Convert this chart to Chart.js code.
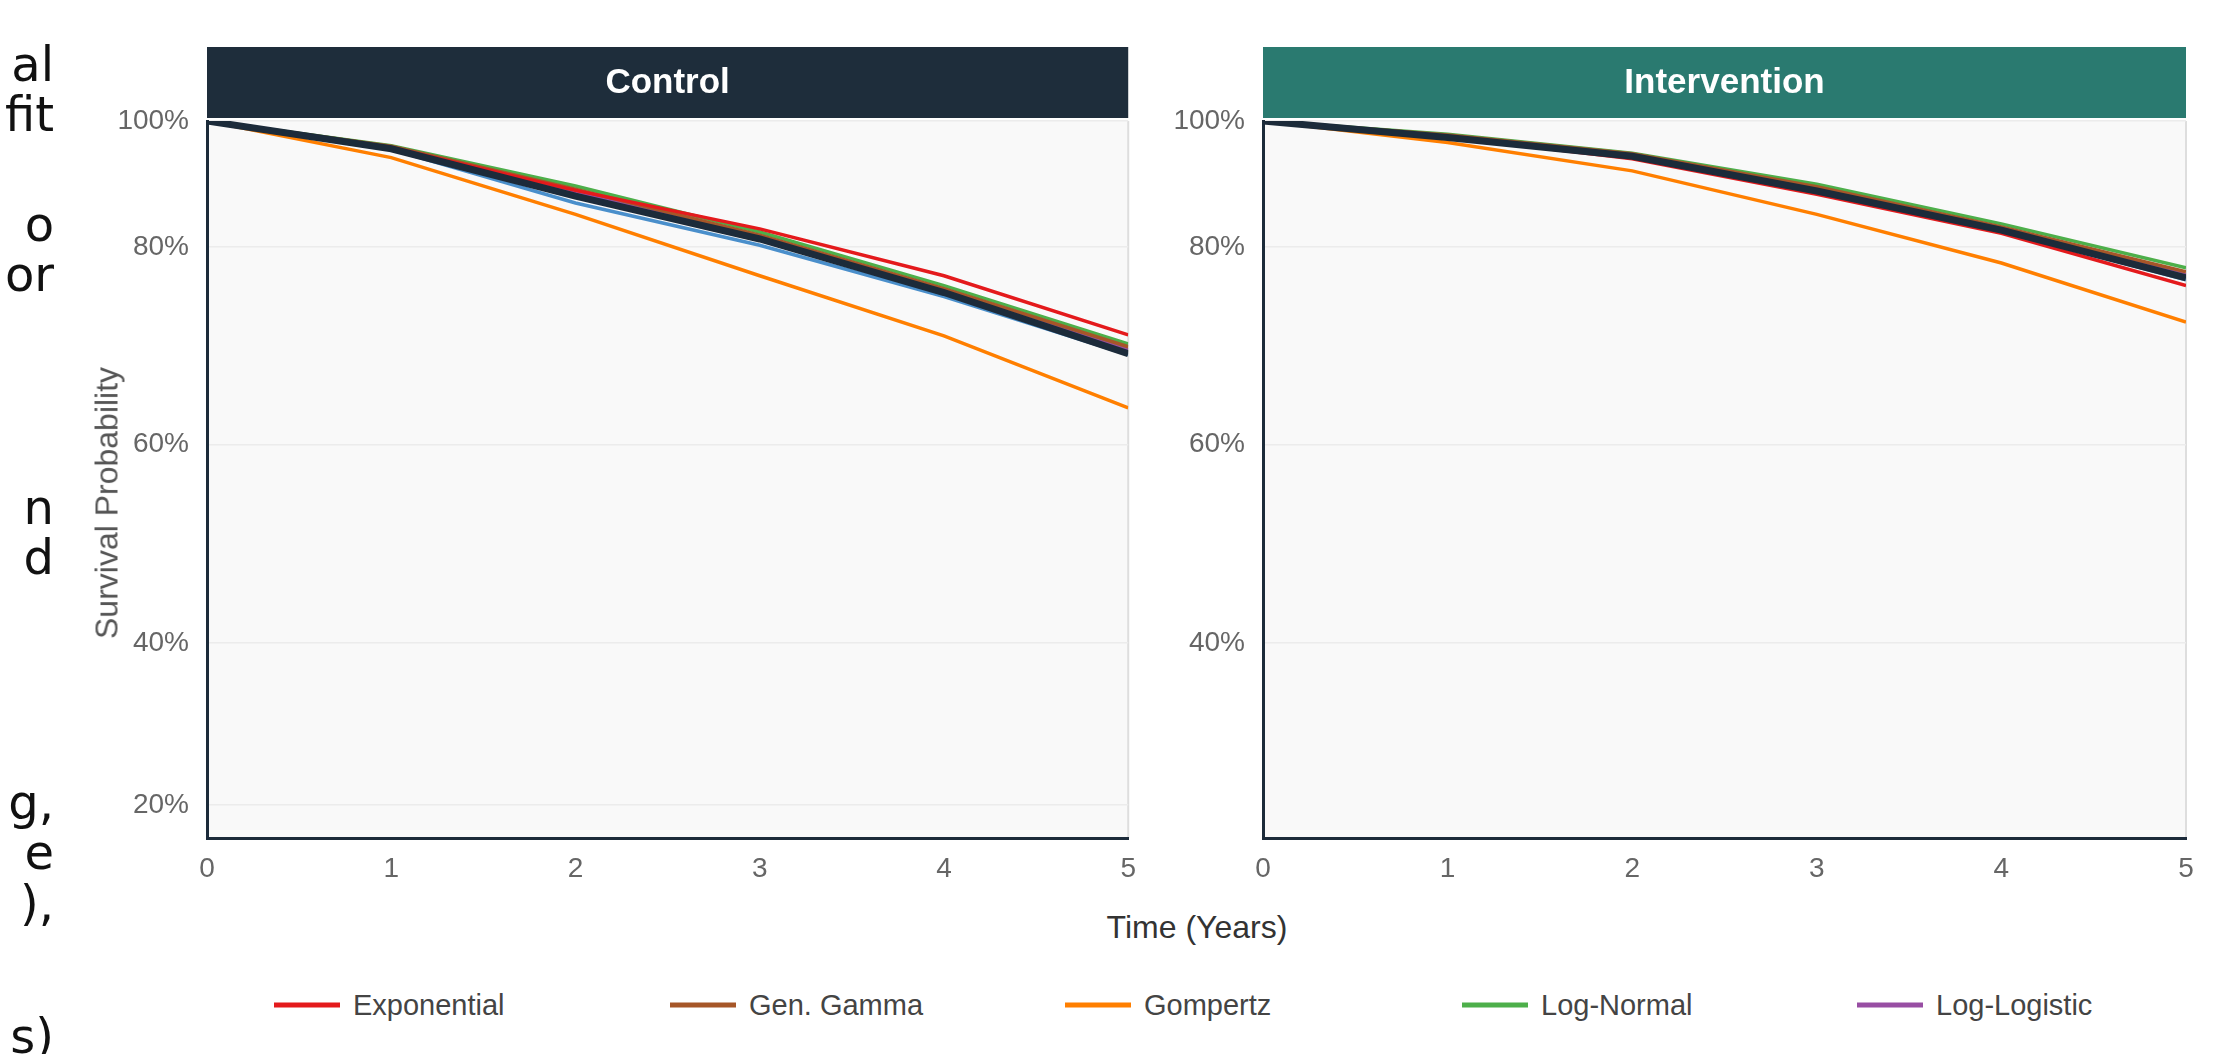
<!DOCTYPE html>
<html>
<head>
<meta charset="utf-8">
<script src="https://cdn.jsdelivr.net/npm/chart.js@4.4.1/dist/chart.umd.min.js"></script>
<style>
  html, body { margin: 0; padding: 0; background: #ffffff; }
  body { width: 2226px; height: 1054px; position: relative; overflow: hidden;
         font-family: "Liberation Sans", Arial, Helvetica, sans-serif; }
  canvas { position: absolute; top: 0; }
  #ctlCanvas { left: 0; }
  #itvCanvas { left: 1150px; }
  .frag { position: absolute; right: 2172px; font-family: "DejaVu Sans", sans-serif; font-size: 48px;
          color: #111; line-height: 1; transform: translateY(-50%); white-space: nowrap; }
  #ytitle { position: absolute; left: 107px; top: 503px; transform: translate(-50%, -50%) rotate(-90deg);
            font-size: 32px; color: #555; white-space: nowrap; }
  #xtitle { position: absolute; left: 1197px; top: 927px; transform: translate(-50%, -50%);
            font-size: 32px; color: #333; white-space: nowrap; }
  .leg { position: absolute; top: 1005px; transform: translateY(-50%); display: flex; align-items: center;
         font-size: 29px; color: #444; white-space: nowrap; }
  .leg i { display: inline-block; width: 66px; height: 5px; margin-right: 13px; }
</style>
</head>
<body>
<canvas id="ctlCanvas" width="1150" height="900"></canvas>
<canvas id="itvCanvas" width="1076" height="900"></canvas>
<div id="side"></div>
<div id="ytitle">Survival Probability</div>
<div id="xtitle">Time (Years)</div>
<div id="legend"></div>
<script>
// ---- data -------------------------------------------------------------
const years = [0, 1, 2, 3, 4, 5];

const modelNames  = ['Exponential', 'Gen. Gamma', 'Gompertz', 'Log-Normal', 'Log-Logistic', 'Weibull', 'Kaplan-Meier'];
const modelColors = ['#e41a1c', '#a65628', '#ff7f00', '#4daf4a', '#984ea3', '#4a8fcb', '#1c2b3a'];
const legendNames = ['Exponential', 'Gen. Gamma', 'Gompertz', 'Log-Normal', 'Log-Logistic'];

// Control arm, survival probability at each year
const ctlExponential = [1.000, 0.958, 0.890, 0.829, 0.771, 0.711];
const ctlGenGamma    = [1.000, 0.960, 0.892, 0.819, 0.758, 0.699];
const ctlGompertz    = [1.000, 0.942, 0.852, 0.771, 0.710, 0.637];
const ctlLogNormal   = [1.000, 0.961, 0.897, 0.824, 0.761, 0.702];
const ctlLogLogistic = [1.000, 0.958, 0.888, 0.816, 0.756, 0.696];
const ctlWeibull     = [1.000, 0.955, 0.870, 0.803, 0.750, 0.691];
const ctlKM          = [1.000, 0.956, 0.881, 0.813, 0.754, 0.692];

// Intervention arm, survival probability at each year
const itvExponential = [1.000, 0.975, 0.940, 0.884, 0.822, 0.761];
const itvGenGamma    = [1.000, 0.978, 0.948, 0.896, 0.832, 0.775];
const itvGompertz    = [1.000, 0.966, 0.921, 0.852, 0.784, 0.724];
const itvLogNormal   = [1.000, 0.979, 0.949, 0.900, 0.837, 0.779];
const itvLogLogistic = [1.000, 0.977, 0.945, 0.892, 0.830, 0.772];
const itvWeibull     = [1.000, 0.975, 0.943, 0.888, 0.826, 0.767];
const itvKM          = [1.000, 0.974, 0.944, 0.889, 0.827, 0.769];

const ctlTicks = [1.0, 0.8, 0.6, 0.4, 0.2];
const itvTicks = [1.0, 0.8, 0.6, 0.4];
const xTicks   = [0, 1, 2, 3, 4, 5];

// ---- survival axis: piecewise spacing between the probability ticks ----
const AXIS_KNOTS = [[1.0, 0], [0.8, 0.176], [0.6, 0.451], [0.4, 0.728], [0.2, 0.954], [0.159, 1]];

class SurvivalScale extends Chart.LinearScale {
  static id = 'survival';
  static defaults = Chart.LinearScale.defaults;
  _frac(v) {
    const k = AXIS_KNOTS;
    let i = 0;
    while (i < k.length - 2 && v < k[i + 1][0]) i++;
    const [v0, f0] = k[i], [v1, f1] = k[i + 1];
    return f0 + (v - v0) * (f1 - f0) / (v1 - v0);
  }
  getPixelForValue(value) {
    return this.top + this._frac(value) * (this.bottom - this.top);
  }
  getValueForPixel(pixel) {
    const f = (pixel - this.top) / (this.bottom - this.top);
    const k = AXIS_KNOTS;
    let i = 0;
    while (i < k.length - 2 && f > k[i + 1][1]) i++;
    const [v0, f0] = k[i], [v1, f1] = k[i + 1];
    return v0 + (f - f0) * (v1 - v0) / (f1 - f0);
  }
}
Chart.register(SurvivalScale);

// ---- panel frame: plot background, right edge and coloured header ----
const panelFrame = {
  id: 'panelFrame',
  beforeDraw(chart, args, opts) {
    const { ctx, chartArea: a } = chart;
    ctx.save();
    ctx.fillStyle = '#f9f9f9';
    ctx.fillRect(a.left, a.top, a.right - a.left, a.bottom - a.top);
    ctx.strokeStyle = '#dedede';
    ctx.lineWidth = 2;
    ctx.beginPath();
    ctx.moveTo(a.right, a.top);
    ctx.lineTo(a.right, a.bottom);
    ctx.stroke();
    ctx.fillStyle = opts.color;
    ctx.fillRect(a.left, a.top - 74, a.right - a.left, 71);
    ctx.fillStyle = '#ffffff';
    ctx.font = 'bold 35px "Liberation Sans", Arial, sans-serif';
    ctx.textAlign = 'center';
    ctx.textBaseline = 'middle';
    ctx.fillText(opts.text, (a.left + a.right) / 2, a.top - 38);
    ctx.restore();
  }
};

function buildDatasets(series) {
  return series.map((vals, i) => ({
    label: modelNames[i],
    data: years.map((t, j) => ({ x: t, y: vals[j] })),
    borderColor: modelColors[i],
    backgroundColor: modelColors[i],
    borderWidth: i === 6 ? 7 : 3.5,
    pointRadius: 0,
    tension: 0,
    fill: false,
    order: i === 6 ? -1 : i
  }));
}

const tickFont = { size: 28, family: '"Liberation Sans", Arial, sans-serif' };

function buildChart(canvasId, series, yTicks, header, headerColor, axisWidth, padRight) {
  return new Chart(document.getElementById(canvasId), {
    type: 'line',
    data: { datasets: buildDatasets(series) },
    options: {
      responsive: false,
      animation: false,
      layout: { padding: { left: 0, right: padRight, top: 121, bottom: 2 } },
      plugins: {
        legend: { display: false },
        tooltip: { enabled: false },
        panelFrame: { text: header, color: headerColor }
      },
      scales: {
        x: {
          type: 'linear', min: 0, max: 5,
          afterBuildTicks: s => { s.ticks = xTicks.map(v => ({ value: v })); },
          afterFit: s => { s.height = 60; },
          grid: { display: false, drawTicks: false },
          border: { display: true, color: '#1c2b3a', width: 3 },
          ticks: { padding: 14, color: '#666', font: tickFont }
        },
        y: {
          type: 'survival', min: 0.159, max: 1.0,
          afterBuildTicks: s => { s.ticks = yTicks.map(v => ({ value: v })); },
          afterFit: s => { s.width = axisWidth; },
          grid: { color: '#ececec', lineWidth: 1.5, drawTicks: false },
          border: { display: true, color: '#1c2b3a', width: 3 },
          ticks: {
            padding: 18, color: '#666', autoSkip: false, font: tickFont,
            callback: v => Math.round(v * 100) + '%'
          }
        }
      }
    },
    plugins: [panelFrame]
  });
}

buildChart('ctlCanvas',
  [ctlExponential, ctlGenGamma, ctlGompertz, ctlLogNormal, ctlLogLogistic, ctlWeibull, ctlKM],
  ctlTicks, 'Control', '#1e2d3b', 207, 20);
buildChart('itvCanvas',
  [itvExponential, itvGenGamma, itvGompertz, itvLogNormal, itvLogLogistic, itvWeibull, itvKM],
  itvTicks, 'Intervention', '#2a7a70', 113, 40);

// ---- legend ----
const legendLeft = [274, 670, 1065, 1462, 1857];
const legendBox = document.getElementById('legend');
legendNames.forEach((name, i) => {
  const d = document.createElement('div');
  d.className = 'leg';
  d.style.left = legendLeft[i] + 'px';
  const sw = document.createElement('i');
  sw.style.background = modelColors[modelNames.indexOf(name)];
  d.appendChild(sw);
  d.appendChild(document.createTextNode(name));
  legendBox.appendChild(d);
});

// ---- wrapped text running in from the left edge ----
const sideLines = ['al', 'fit', 'o', 'or', 'n', 'd', 'g,', 'e', '),', 's)'];
const sideTop   = [64, 114, 224, 274, 507, 557, 802, 852, 903, 1036];
const sideBox = document.getElementById('side');
sideLines.forEach((txt, i) => {
  const d = document.createElement('div');
  d.className = 'frag';
  d.style.top = sideTop[i] + 'px';
  d.textContent = txt;
  sideBox.appendChild(d);
});
</script>
</body>
</html>
